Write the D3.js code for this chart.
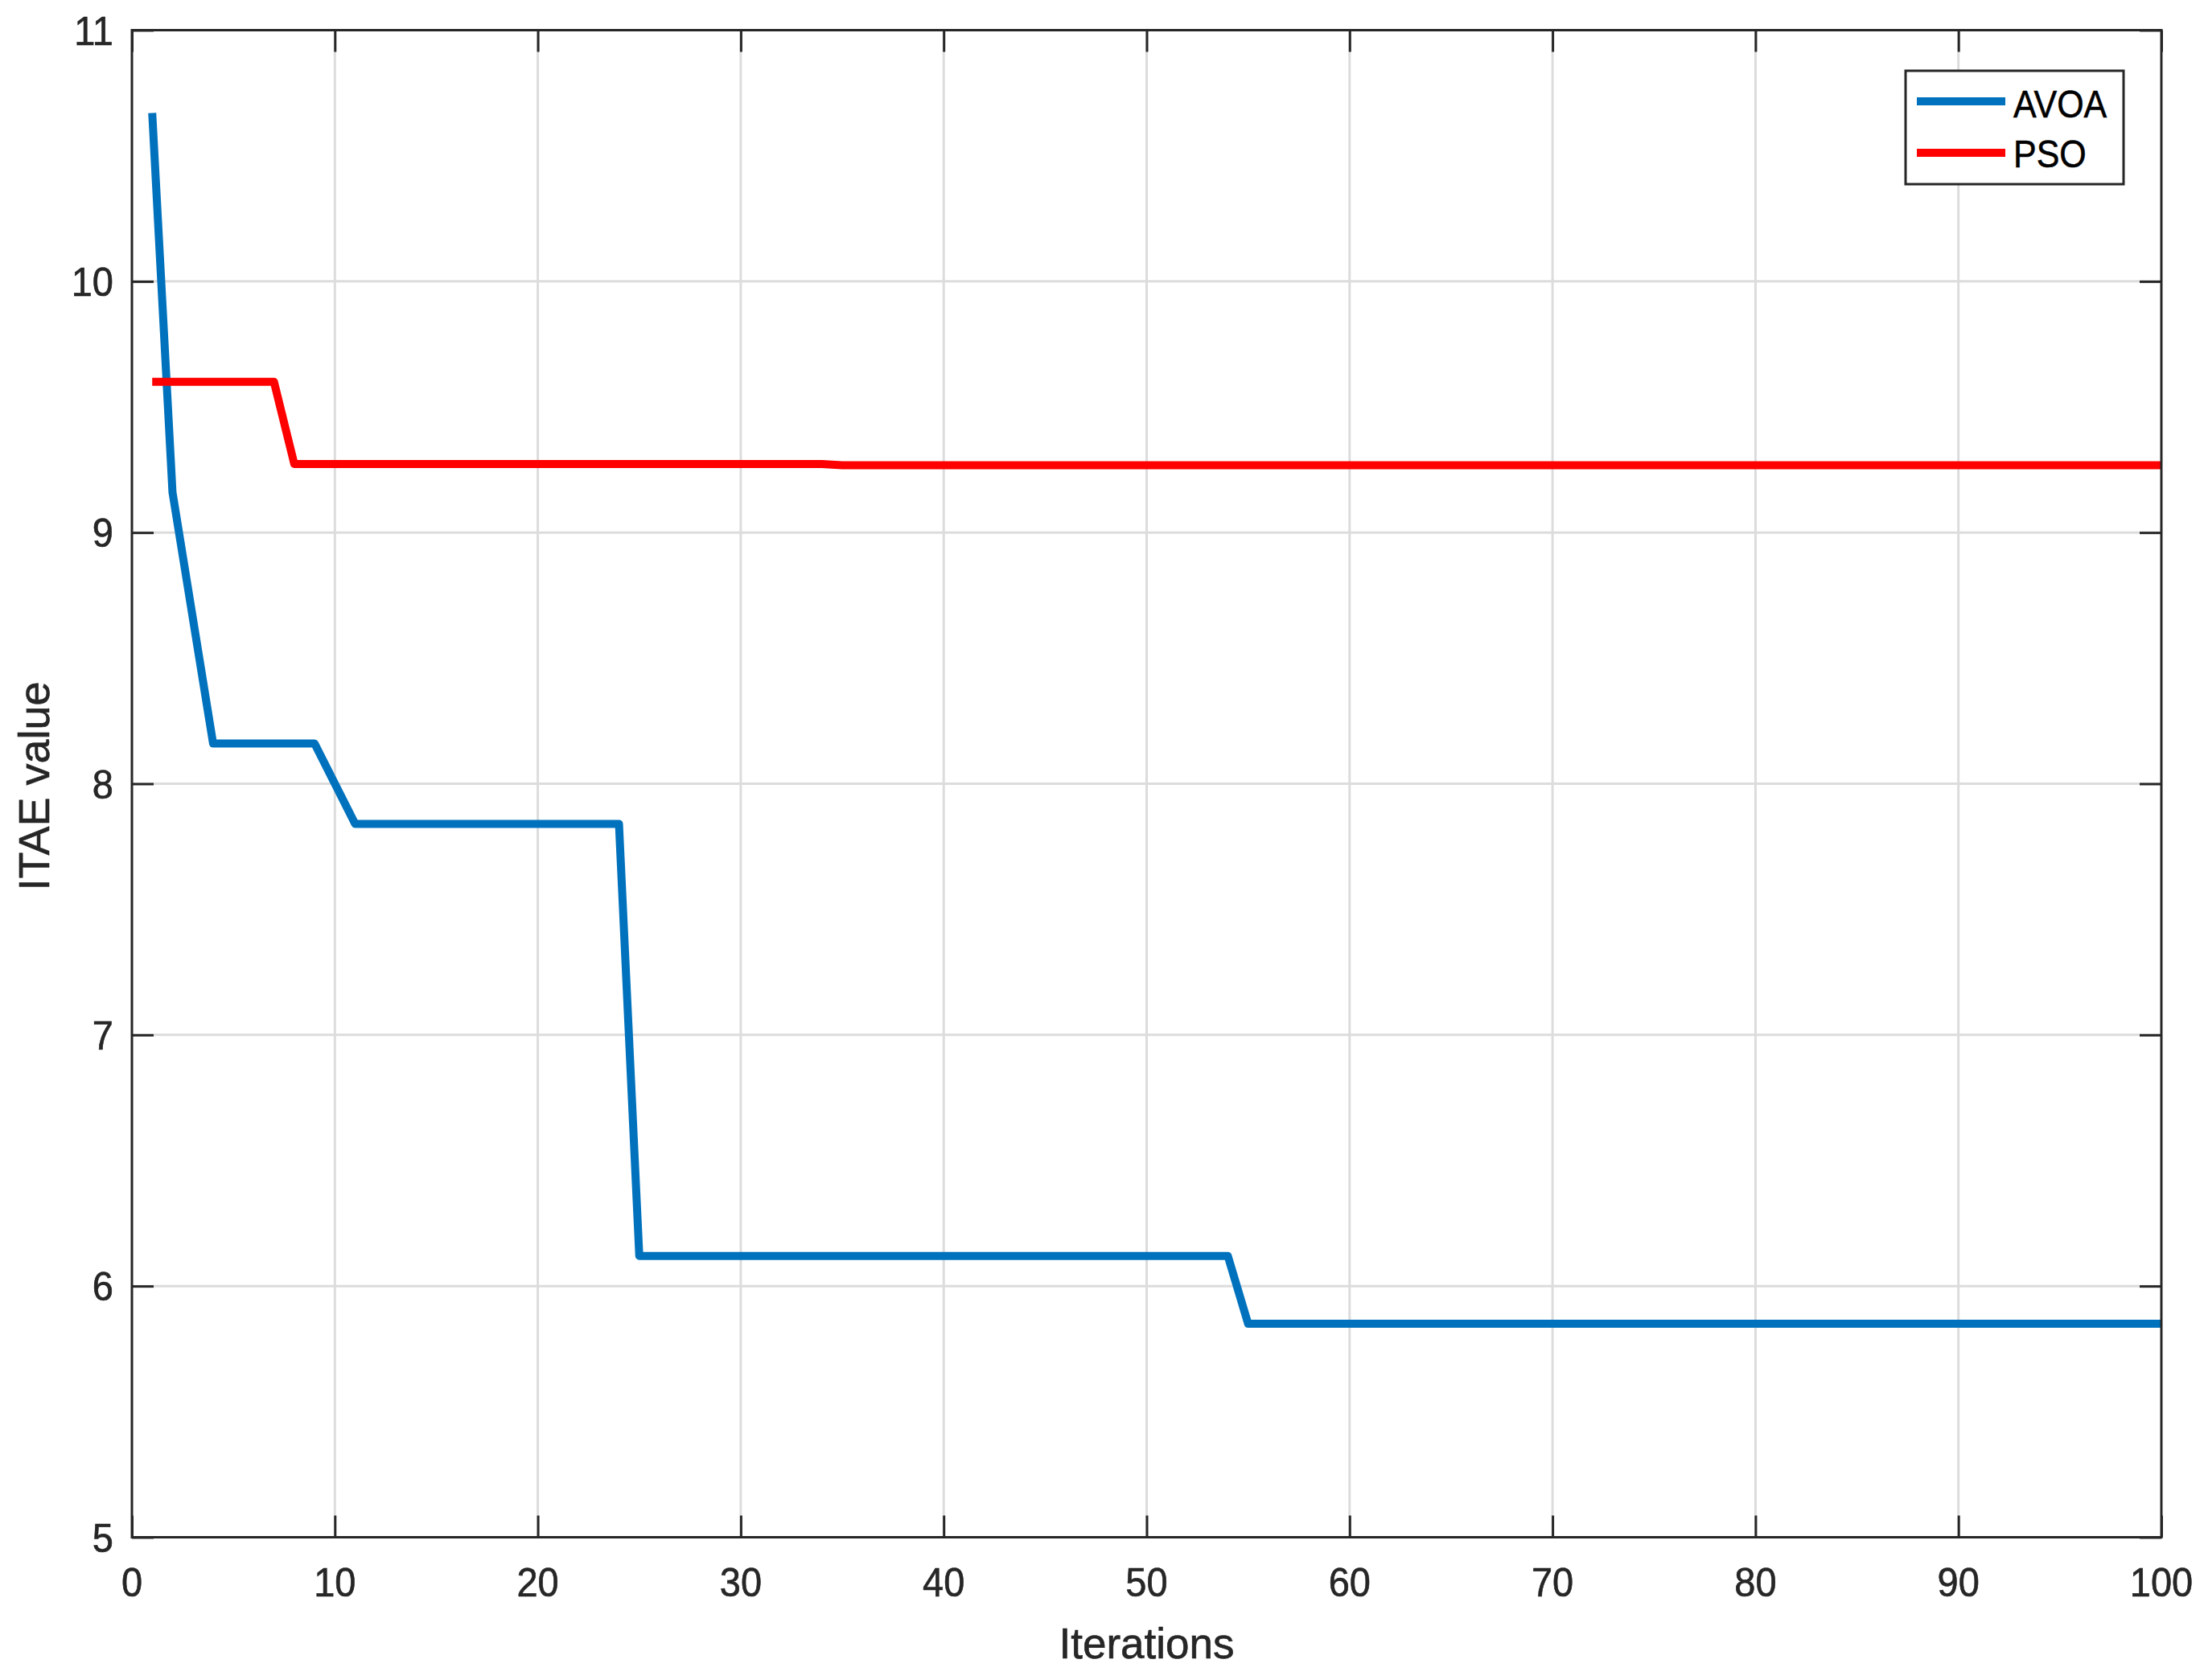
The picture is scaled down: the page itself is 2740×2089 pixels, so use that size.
<!DOCTYPE html>
<html>
<head>
<meta charset="utf-8">
<script src="https://cdn.jsdelivr.net/npm/d3@7"></script>
<style>
  html, body { margin: 0; padding: 0; background: #fff; }
  svg { display: block; }
  text { font-family: "Liberation Sans", Arial, Helvetica, sans-serif; }
</style>
</head>
<body>
<svg id="chart" width="2740" height="2089"></svg>
<script>
// ---- data ----
const iterations = [
  1,2,3,4,5,6,7,8,9,10,
  11,12,13,14,15,16,17,18,19,20,
  21,22,23,24,25,26,27,28,29,30,
  31,32,33,34,35,36,37,38,39,40,
  41,42,43,44,45,46,47,48,49,50,
  51,52,53,54,55,56,57,58,59,60,
  61,62,63,64,65,66,67,68,69,70,
  71,72,73,74,75,76,77,78,79,80,
  81,82,83,84,85,86,87,88,89,90,
  91,92,93,94,95,96,97,98,99,100
];
const avoa = [
  10.67, 9.16, 8.66, 8.16, 8.16, 8.16, 8.16, 8.16, 8.16, 8.00,
  7.84, 7.84, 7.84, 7.84, 7.84, 7.84, 7.84, 7.84, 7.84, 7.84,
  7.84, 7.84, 7.84, 7.84, 6.12, 6.12, 6.12, 6.12, 6.12, 6.12,
  6.12, 6.12, 6.12, 6.12, 6.12, 6.12, 6.12, 6.12, 6.12, 6.12,
  6.12, 6.12, 6.12, 6.12, 6.12, 6.12, 6.12, 6.12, 6.12, 6.12,
  6.12, 6.12, 6.12, 6.12, 5.85, 5.85, 5.85, 5.85, 5.85, 5.85,
  5.85, 5.85, 5.85, 5.85, 5.85, 5.85, 5.85, 5.85, 5.85, 5.85,
  5.85, 5.85, 5.85, 5.85, 5.85, 5.85, 5.85, 5.85, 5.85, 5.85,
  5.85, 5.85, 5.85, 5.85, 5.85, 5.85, 5.85, 5.85, 5.85, 5.85,
  5.85, 5.85, 5.85, 5.85, 5.85, 5.85, 5.85, 5.85, 5.85, 5.85
];
const pso = [
  9.60, 9.60, 9.60, 9.60, 9.60, 9.60, 9.60, 9.273, 9.273, 9.273,
  9.273, 9.273, 9.273, 9.273, 9.273, 9.273, 9.273, 9.273, 9.273, 9.273,
  9.273, 9.273, 9.273, 9.273, 9.273, 9.273, 9.273, 9.273, 9.273, 9.273,
  9.273, 9.273, 9.273, 9.273, 9.268, 9.268, 9.268, 9.268, 9.268, 9.268,
  9.268, 9.268, 9.268, 9.268, 9.268, 9.268, 9.268, 9.268, 9.268, 9.268,
  9.268, 9.268, 9.268, 9.268, 9.268, 9.268, 9.268, 9.268, 9.268, 9.268,
  9.268, 9.268, 9.268, 9.268, 9.268, 9.268, 9.268, 9.268, 9.268, 9.268,
  9.268, 9.268, 9.268, 9.268, 9.268, 9.268, 9.268, 9.268, 9.268, 9.268,
  9.268, 9.268, 9.268, 9.268, 9.268, 9.268, 9.268, 9.268, 9.268, 9.268,
  9.268, 9.268, 9.268, 9.268, 9.268, 9.268, 9.268, 9.268, 9.268, 9.268
];
const seriesNames = ["AVOA", "PSO"];
const seriesColors = ["#0072BD", "#FF0000"];
const xTicks = [0, 10, 20, 30, 40, 50, 60, 70, 80, 90, 100];
const yTicks = [5, 6, 7, 8, 9, 10, 11];
const xLabel = "Iterations";
const yLabel = "ITAE value";

// ---- layout ----
const L = 164, R = 2687, T = 37.5, B = 1911.5;
const axisColor = "#262626";
const gridColor = "#dcdcdc";
const tickLen = 27;

const svg = d3.select("#chart");
const x = d3.scaleLinear().domain([0, 100]).range([L, R]);
const y = d3.scaleLinear().domain([5, 11]).range([B, T]);

// grid
const grid = svg.append("g");
grid.selectAll("line.gx").data(xTicks.slice(1, -1)).join("line")
  .attr("x1", d => x(d)).attr("x2", d => x(d)).attr("y1", T).attr("y2", B)
  .attr("stroke", gridColor).attr("stroke-width", 3);
grid.selectAll("line.gy").data(yTicks.slice(1, -1)).join("line")
  .attr("y1", d => y(d)).attr("y2", d => y(d)).attr("x1", L).attr("x2", R)
  .attr("stroke", gridColor).attr("stroke-width", 3);

// lines
svg.append("clipPath").attr("id", "clip").append("rect")
  .attr("x", L).attr("y", T).attr("width", R - L).attr("height", B - T);
const line = d3.line().x((d, i) => x(iterations[i])).y(d => y(d));
const seriesData = [avoa, pso];
svg.append("g").attr("clip-path", "url(#clip)")
  .selectAll("path").data(seriesData).join("path")
  .attr("d", d => line(d))
  .attr("fill", "none")
  .attr("stroke", (d, i) => seriesColors[i])
  .attr("stroke-width", 10)
  .attr("stroke-linejoin", "round")
  .attr("stroke-linecap", "butt");

// axes (box with inward ticks)
const ax = svg.append("g");
const xb = d3.axisBottom(x).tickValues(xTicks).tickSize(-tickLen).tickFormat(() => "");
const xt = d3.axisTop(x).tickValues(xTicks).tickSize(-tickLen).tickFormat(() => "");
const yl = d3.axisLeft(y).tickValues(yTicks).tickSize(-tickLen).tickFormat(() => "");
const yr = d3.axisRight(y).tickValues(yTicks).tickSize(-tickLen).tickFormat(() => "");
ax.append("g").attr("transform", `translate(0,${B})`).call(xb);
ax.append("g").attr("transform", `translate(0,${T})`).call(xt);
ax.append("g").attr("transform", `translate(${L},0)`).call(yl);
ax.append("g").attr("transform", `translate(${R},0)`).call(yr);
ax.selectAll("path.domain").remove();
ax.selectAll(".tick line").attr("stroke", axisColor).attr("stroke-width", 3);
svg.append("rect").attr("x", L).attr("y", T).attr("width", R - L).attr("height", B - T)
  .attr("fill", "none").attr("stroke", axisColor).attr("stroke-width", 3);

// tick labels (slightly taller glyphs, as in the reference)
const tickFs = 47, sY = 1.08;
svg.append("g").selectAll("text").data(xTicks).join("text")
  .attr("transform", d => `translate(${x(d)},1985) scale(1,${sY})`)
  .attr("text-anchor", "middle").attr("font-size", tickFs).attr("fill", axisColor)
  .attr("stroke", axisColor).attr("stroke-width", 0.6)
  .text(d => d);
svg.append("g").selectAll("text").data(yTicks).join("text")
  .attr("transform", d => `translate(141,${y(d) + 0.36 * tickFs * sY}) scale(1,${sY})`)
  .attr("text-anchor", "end").attr("font-size", tickFs).attr("fill", axisColor)
  .attr("stroke", axisColor).attr("stroke-width", 0.6)
  .text(d => d);

// axis labels
svg.append("text").attr("x", (L + R) / 2).attr("y", 2062)
  .attr("text-anchor", "middle").attr("font-size", 53).attr("fill", axisColor)
  .attr("stroke", axisColor).attr("stroke-width", 0.6)
  .text(xLabel);
svg.append("text").attr("transform", `translate(61,${(T + B) / 2 + 3}) rotate(-90)`)
  .attr("text-anchor", "middle").attr("font-size", 54).attr("fill", axisColor)
  .attr("stroke", axisColor).attr("stroke-width", 0.6)
  .text(yLabel);

// legend
const lg = svg.append("g");
lg.append("rect").attr("x", 2369).attr("y", 88).attr("width", 271).attr("height", 141)
  .attr("fill", "#fff").attr("stroke", axisColor).attr("stroke-width", 3);
const legY = [126, 190];
const legBase = [145.7, 208];
seriesNames.forEach((name, i) => {
  lg.append("line").attr("x1", 2383).attr("x2", 2493).attr("y1", legY[i]).attr("y2", legY[i])
    .attr("stroke", seriesColors[i]).attr("stroke-width", 10);
  lg.append("text").attr("transform", `translate(2503,${legBase[i]}) scale(1,1.1)`)
    .attr("font-size", 43).attr("fill", "#000")
    .attr("stroke", "#000").attr("stroke-width", 0.5)
    .text(name);
});
</script>
</body>
</html>
